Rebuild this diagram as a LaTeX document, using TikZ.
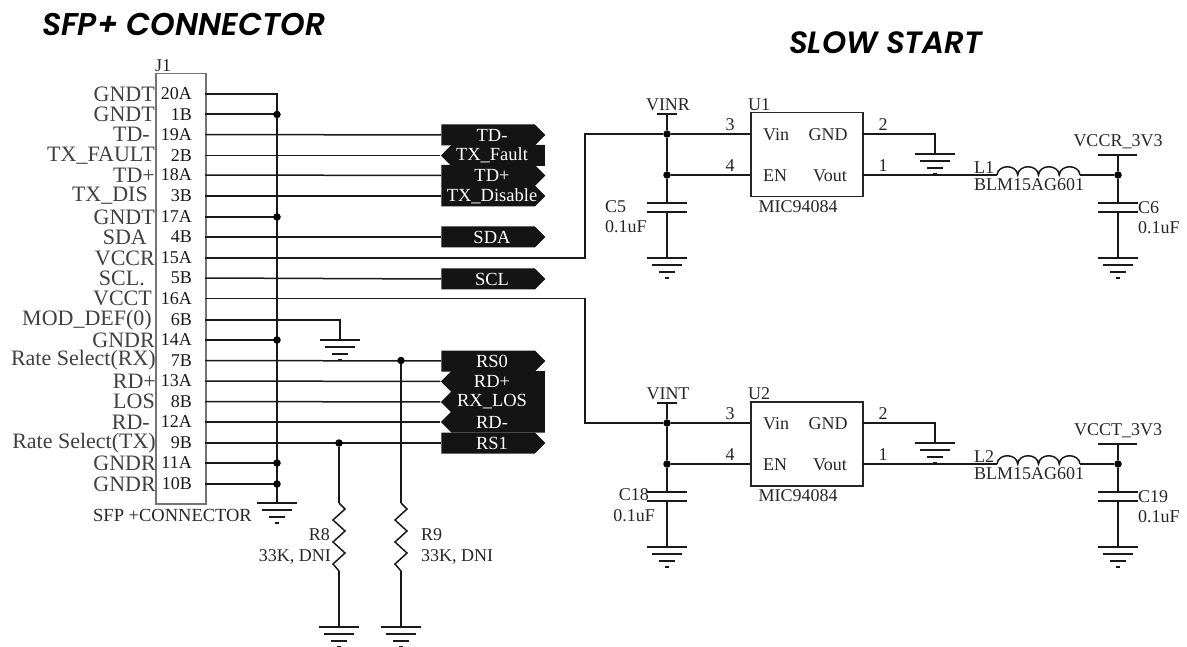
\documentclass[tikz,border=0pt]{standalone}
\usepackage{fontspec}
\setmainfont{Liberation Serif}
\newfontfamily\titlefont[BoldItalicFont={Poppins SemiBold Italic}]{Poppins}
\usetikzlibrary{shapes.symbols}
\newcommand{\fsz}[1]{\fontsize{#1}{#1}\selectfont}
\tikzset{
  x=1pt,y=-1pt,
  wire/.style={line width=1.5pt,color=black!90},
  part/.style={draw=black!85,line width=1.5pt,fill=white},
  dot/.style={circle,fill=black,inner sep=0pt,minimum size=7.5pt},
  pinlabel/.style={inner sep=0pt,anchor=east,text=black!75,font=\fsz{22}},
  pinnum/.style={inner sep=0pt,text=black!90,font=\fsz{18}},
  small/.style={inner sep=0pt,text=black!85,font=\fsz{18}},
  tag/.style={signal,fill=black!92,text=white,font=\fsz{18.5},inner sep=0pt,
    minimum width=104pt,minimum height=21pt,signal pointer angle=90},
  tagout/.style={tag,signal to=east,execute at begin node={\hspace*{8pt}}},
  tagin/.style={tag,signal to=west,execute at begin node={\hspace*{-12pt}}},
}
\newcommand{\gndsym}[3]{% name, x, y
  \coordinate (#1) at (#2,#3);
  \draw[wire] ([xshift=-20pt]#1) -- ([xshift=20pt]#1);
  \draw[wire] ([xshift=-15pt,yshift=-7pt]#1) -- ([xshift=15pt,yshift=-7pt]#1);
  \draw[wire] ([xshift=-8pt,yshift=-14pt]#1) -- ([xshift=8pt,yshift=-14pt]#1);
  \draw[wire] ([xshift=-2pt,yshift=-20pt]#1) -- ([xshift=2pt,yshift=-20pt]#1);
}
\newcommand{\capsym}[3]{% name, x, y
  \coordinate (#1t) at (#2,#3);
  \coordinate (#1b) at (#2,#3+9);
  \draw[wire,line width=2pt] ([xshift=-20pt]#1t) -- ([xshift=20pt]#1t);
  \draw[wire,line width=2pt] ([xshift=-20pt]#1b) -- ([xshift=20pt]#1b);
}
\newcommand{\coilsym}[3]{% name, x, y
  \coordinate (#1a) at (#2,#3);
  \coordinate (#1b) at (#2+83,#3);
  \draw[wire] (#1a)
    .. controls (#2+1,#3-11) and (#2+19.75,#3-11) .. (#2+20.75,#3)
    .. controls (#2+21.75,#3-11) and (#2+40.5,#3-11) .. (#2+41.5,#3)
    .. controls (#2+42.5,#3-11) and (#2+61.25,#3-11) .. (#2+62.25,#3)
    .. controls (#2+63.25,#3-11) and (#2+82,#3-11) .. (#2+83,#3);
}
\newcommand{\ressym}[3]{% name, x, y top
  \coordinate (#1a) at (#2,#3);
  \coordinate (#1b) at (#2,#3+68);
  \draw[wire] (#1a) -- ++(6,6) -- ++(-12,11) -- ++(12,11) -- ++(-12,11) -- ++(12,11) -- ++(-12,11) -- (#1b);
}
\begin{document}
\begin{tikzpicture}
\useasboundingbox (0,0) rectangle (1187,647);
\node[inner sep=0pt,anchor=west,font=\titlefont\fsz{31.4}\bfseries\itshape] (t1) at (42,24) {SFP+ CONNECTOR};
\node[inner sep=0pt,anchor=west,font=\titlefont\fsz{30.8}\bfseries\itshape] (t2) at (789,43) {SLOW START};

% connector body
\node[part,draw=black!55,anchor=north west,minimum width=50pt,minimum height=430pt,inner sep=0pt] (J) at (155,73) {};
\node[small,anchor=south west] (Jn) at (155,72) {J1};
\foreach \nm/\lab/\yy/\xr in {
  20A/GNDT/94/155, 1B/GNDT/114.5/155, 19A/TD-/134.5/150, 2B/TX\_FAULT/155.5/155,
  18A/TD+/175/155, 3B/TX\_DIS/196/148, 17A/GNDT/217/155, 4B/SDA/237/147,
  15A/VCCR/258/155, 5B/SCL./278/145, 16A/VCCT/298.5/152, 6B/MOD\_DEF(0)/320/152,
  14A/GNDR/340/155, 7B/Rate Select(RX)/360.5/156, 13A/RD+/381/156, 8B/LOS/401.5/155,
  12A/RD-/422/150, 9B/Rate Select(TX)/443/156, 11A/GNDR/463/156, 10B/GNDR/484/156}{
  \node[pinlabel] (l\nm) at (\xr,\yy) {\lab};
  \node[pinnum,anchor=east] (n\nm) at (192,\yy) {\nm};
  \coordinate (r\nm) at (205,\yy);
}
\node[inner sep=0pt,font=\fsz{18.5},text=black!85,anchor=west] (sfpname) at (93,515) {SFP +CONNECTOR};

% tags
\node[tagout] (TDm) at (488,135) {TD-};
\node[tagin]  (TXF) at (498,155.5) {TX\_Fault};
\node[tagout] (TDp) at (488,175.5) {TD+};
\node[tagout] (TXD) at (488,196) {\makebox[0pt]{TX\_Disable}};
\node[tagout] (SDA) at (488,237) {SDA};
\node[tagout] (SCL) at (488,279) {SCL};
\node[tagout] (RS0) at (488,361) {RS0};
\node[tagin]  (RDp) at (498,381.5) {RD+};
\node[tagin]  (RXL) at (498,402) {RX\_LOS};
\node[tagin]  (RDm) at (498,422) {RD-};
\node[tagout] (RS1) at (488,443) {RS1};

% ground bus
\coordinate (bus) at (277,503);
\gndsym{gJ}{277}{503}
\draw[wire] (r20A) -- (r20A -| bus) -- (bus);
\foreach \p in {1B,17A,14A,11A,10B}{
  \draw[wire,line width=2pt] (r\p) -- (r\p -| bus) node[dot] {};
}
% signals
\draw[wire] (r19A) -- (TDm.west);
\draw[wire] (r2B) -- (TXF.west);
\draw[wire] (r18A) -- (TDp.west);
\draw[wire] (r3B) -- (TXD.west);
\draw[wire] (r4B) -- (SDA.west);
\draw[wire] (r5B) -- (SCL.west);
\draw[wire] (r7B) -- (RS0.west);
\draw[wire] (r13A) -- (RDp.west);
\draw[wire] (r8B) -- (RXL.west);
\draw[wire] (r12A) -- (RDm.west);
\draw[wire] (r9B) -- (RS1.west);
% 6B to ground
\gndsym{g6}{340}{340}
\draw[wire] (r6B) -- (g6 |- r6B) -- (g6);
% pull downs
\coordinate (j8) at (339,443);
\coordinate (j9) at (401,360.5);
\node[dot] (d8) at (j8) {};
\node[dot] (d9) at (j9) {};
\ressym{R8}{339}{503}
\ressym{R9}{401}{503}
\gndsym{g8}{339}{627}
\gndsym{g9}{401}{627}
\draw[wire] (d8) -- (R8a);
\draw[wire] (d9) -- (R9a);
\draw[wire] (R8b) -- (g8);
\draw[wire] (R9b) -- (g9);
\node[small,anchor=east] (R8n) at (330,535) {R8};
\node[small,anchor=east] (R8v) at (331,557) {33K, DNI};
\node[small,anchor=west] (R9n) at (421,535) {R9};
\node[small,anchor=west] (R9v) at (421,557) {33K, DNI};

% regulators
\foreach \U/\top/\vn/\Ln/\Cd/\Vo in {
  U1/112/VINR/L1/C6/VCCR\_3V3,
  U2/401/VINT/L2/C19/VCCT\_3V3}{
  \node[part,anchor=north west,minimum width=112pt,minimum height=84pt,inner sep=0pt] (\U) at (750,\top) {};
  \node[small,anchor=south west] (\U n) at (748,\top-1) {\U};
  \coordinate (\U vin) at (750,\top+22);
  \coordinate (\U en)  at (750,\top+63);
  \coordinate (\U gnd) at (862,\top+22);
  \coordinate (\U out) at (862,\top+63);
  \node[small,anchor=west] (\U a) at (763,\top+23) {Vin};
  \node[small,anchor=west] (\U b) at (763,\top+64) {EN};
  \node[small] (\U c) at (828,\top+23) {GND};
  \node[small] (\U d) at (830,\top+64) {Vout};
  \node[small] (\U p3) at (730,\top+13) {3};
  \node[small] (\U p4) at (730,\top+54) {4};
  \node[small] (\U p2) at (883,\top+13) {2};
  \node[small] (\U p1) at (883,\top+54) {1};
  \node[small] (\U m) at (798,\top+95) {MIC94084};
  \node[small] (\U net) at (668,\top-7) {\vn};
  \coordinate (\U top) at (667,\top+2);
  \draw[wire] (657,\top+2) -- (677,\top+2);
  \node[dot] (\U da) at (667,\top+22) {};
  \node[dot] (\U db) at (667,\top+63) {};
  \draw[wire] (\U top) -- (\U da) -- (\U db);
  \draw[wire] (\U da) -- (\U vin);
  \draw[wire] (\U db) -- (\U en);
  \capsym{\U ca}{667}{\top+91}
  \draw[wire] (\U db) -- (\U cat);
  \gndsym{\U ga}{667}{\top+146}
  \draw[wire] (\U cab) -- (\U ga);
  \gndsym{\U gb}{935}{\top+42}
  \draw[wire] (\U gnd) -- (\U gb |- \U gnd) -- (\U gb);
  \coilsym{\U L}{997}{\top+63}
  \draw[wire] (\U out) -- (\U La);
  \node[small,anchor=south west] (\U ln) at (974,\top+62) {\Ln};
  \node[small,anchor=north west] (\U lv) at (974,\top+66) {BLM15AG601};
  \node[dot] (\U dc) at (1118,\top+63) {};
  \draw[wire] (\U Lb) -- (\U dc);
  \coordinate (\U vo) at (1118,\top+43);
  \draw[wire] (1098,\top+43) -- (1137,\top+43);
  \draw[wire] (\U vo) -- (\U dc);
  \node[small] (\U von) at (1118,\top+30) {\Vo};
  \capsym{\U cb}{1118}{\top+91}
  \draw[wire] (\U dc) -- (\U cbt);
  \gndsym{\U gc}{1118}{\top+146}
  \draw[wire] (\U cbb) -- (\U gc);
  \node[small,anchor=west] (\U cdn) at (1138,\top+96) {\Cd};
  \node[small,anchor=west] (\U cdv) at (1138,\top+116) {0.1uF};
}
\node[small,anchor=west] (C5n) at (605,207) {C5};
\node[small,anchor=west] (C5v) at (605,227) {0.1uF};
\node[small,anchor=east] (C18n) at (649,495) {C18};
\node[small,anchor=east] (C18v) at (655,516) {0.1uF};

% supply feeds
\coordinate (k1) at (585,258);
\coordinate (k2) at (585,298.5);
\draw[wire] (r15A) -- (k1) |- (U1da);
\draw[wire] (r16A) -- (k2) |- (U2da);
\end{tikzpicture}
\end{document}
